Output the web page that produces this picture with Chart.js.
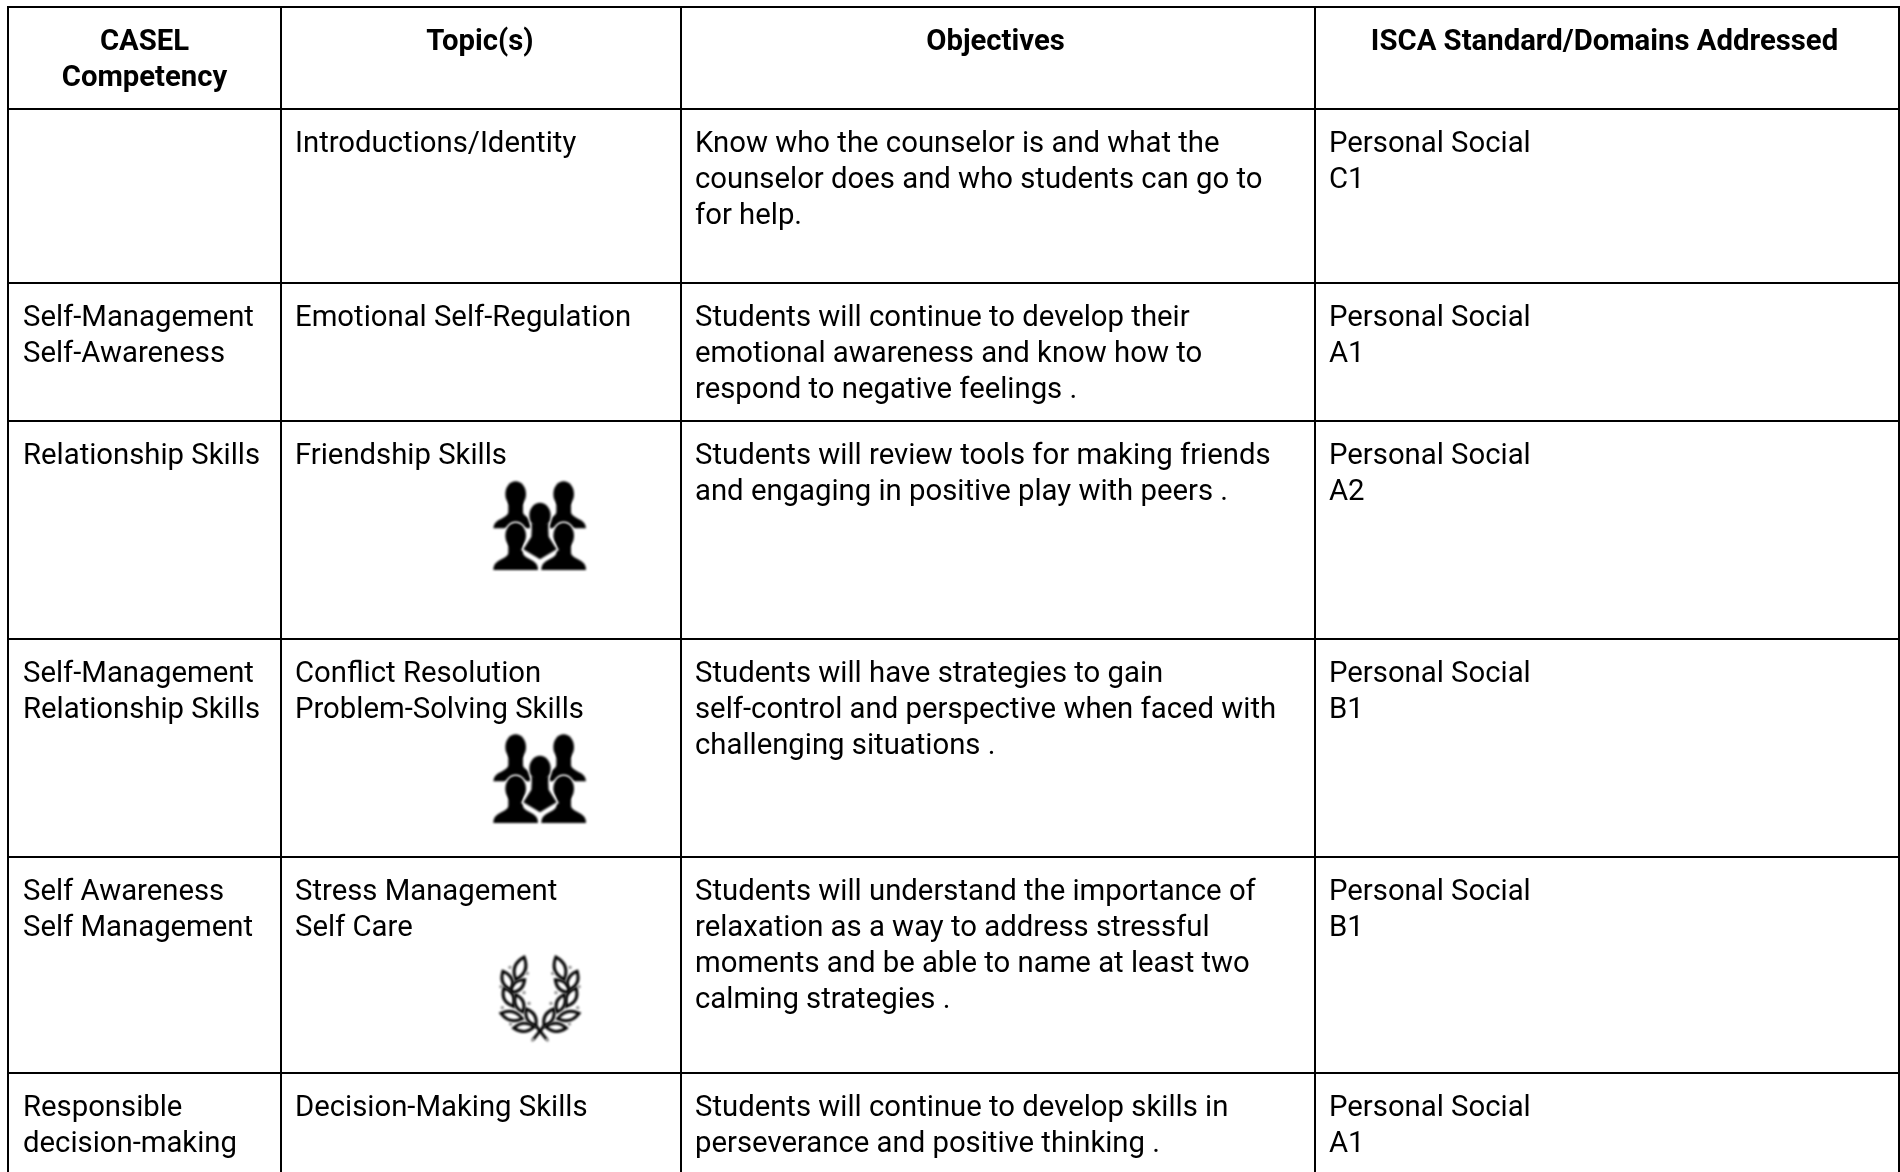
<!DOCTYPE html>
<html>
<head>
<meta charset="utf-8">
<style>html,body{margin:0;padding:0;background:#fff}canvas{display:block}</style>
<script src="https://cdn.jsdelivr.net/npm/chart.js@4/dist/chart.umd.js"></script>
</head>
<body>
<canvas id="c" width="1900" height="1172"></canvas>
<script>
const columnEdges = [8, 281, 681, 1315, 1899];
const rowEdges = [7, 109, 283, 421, 639, 857, 1073];
const headers = [["CASEL","Competency"],["Topic(s)"],["Objectives"],["ISCA Standard/Domains Addressed"]];
const competencies = [[],["Self-Management","Self-Awareness"],["Relationship Skills"],["Self-Management","Relationship Skills"],["Self Awareness","Self Management"],["Responsible","decision-making"]];
const topics = [["Introductions/Identity"],["Emotional Self-Regulation"],["Friendship Skills"],["Conflict Resolution","Problem-Solving Skills"],["Stress Management","Self Care"],["Decision-Making Skills"]];
const objectives = [
 ["Know who the counselor is and what the","counselor does and who students can go to","for help."],
 ["Students will continue to develop their","emotional awareness and know how to","respond to negative feelings ."],
 ["Students will review tools for making friends","and engaging in positive play with peers ."],
 ["Students will have strategies to gain","self-control and perspective when faced with","challenging situations ."],
 ["Students will understand the importance of","relaxation as a way to address stressful","moments and be able to name at least two","calming strategies ."],
 ["Students will continue to develop skills in","perseverance and positive thinking ."]];
const standards = [["Personal Social","C1"],["Personal Social","A1"],["Personal Social","A2"],["Personal Social","B1"],["Personal Social","B1"],["Personal Social","A1"]];
const iconX = [530, 530, 530];
const iconY = [525, 778, 995];
const iconKinds = ["people","people","laurel"];

const FONT = 'Roboto, sans-serif';
const SIZE = 29.3, LINE = 35.9, BASE = 43;
const PADS = [15, 14, 14, 14];
const HEADER_SHIFT = [0, -1, -2.5, -2.5];

function iconCanvas(draw){
  const cv = document.createElement('canvas');
  cv.width = 120; cv.height = 110;
  const g = cv.getContext('2d');
  g.filter = 'blur(0.8px)';
  g.scale(1/3,1/3);
  draw(g);
  return cv;
}
function person(g, cx, hy, shoulderY, bottom, half, outline){
  const p = new Path2D();
  p.ellipse(cx, hy, 31, 38, 0, 0, Math.PI*2);
  const b = new Path2D();
  b.moveTo(cx-22, hy+20);
  b.lineTo(cx-22, shoulderY-16);
  b.quadraticCurveTo(cx-20, shoulderY-4, cx-half+24, shoulderY+6);
  b.quadraticCurveTo(cx-half, shoulderY+16, cx-half, bottom);
  b.lineTo(cx+half, bottom);
  b.quadraticCurveTo(cx+half, shoulderY+16, cx+half-24, shoulderY+6);
  b.quadraticCurveTo(cx+20, shoulderY-4, cx+22, shoulderY-16);
  b.lineTo(cx+22, hy+20);
  b.closePath();
  if(outline){ g.strokeStyle='#fff'; g.lineWidth=9; g.stroke(p); g.stroke(b); }
  g.fillStyle='#000'; g.fill(p); g.fill(b);
}
function people(g){
  person(g,137,72,140,175,67,false);
  person(g,281,72,140,175,67,false);
  person(g,137,197,262,300,67,true);
  person(g,281,197,262,300,67,true);
  const h = new Path2D();
  h.ellipse(210,136,32,38,0,0,Math.PI*2);
  const b = new Path2D();
  b.moveTo(186,160); b.lineTo(184,200); b.lineTo(160,238);
  b.lineTo(210,268); b.lineTo(260,238); b.lineTo(236,200); b.lineTo(234,160); b.closePath();
  g.strokeStyle='#fff'; g.lineWidth=10; g.stroke(h); g.stroke(b);
  g.fillStyle='#000'; g.fill(h); g.fill(b);
}
function laurel(g){
  const leaves = [[150,85,72,34,-70],[112,122,62,30,65],[143,138,56,26,-42],[116,172,62,30,62],[148,190,56,26,68],[125,228,66,28,14],[183,232,58,26,60],[162,262,62,26,-4]];
  g.strokeStyle='#000'; g.fillStyle='#fff'; g.lineWidth=9;
  for(const m of [1,-1]){
    g.save();
    if(m<0){ g.translate(420,0); g.scale(-1,1); }
    for(const [x,y,l,w,a] of leaves){
      g.save(); g.translate(x,y); g.rotate(a*Math.PI/180);
      g.beginPath();
      g.moveTo(-l/2,0);
      g.quadraticCurveTo(0,-w*0.95,l/2,0);
      g.quadraticCurveTo(0,w*0.95,-l/2,0);
      g.closePath(); g.fill(); g.stroke();
      g.restore();
    }
    g.beginPath(); g.moveTo(190,298); g.lineTo(222,258); g.stroke();
    g.fillStyle='#888';
    for(const [x,y] of [[120,82],[172,100],[93,140],[162,158],[97,203],[177,190],[122,252],[188,300]]){
      g.beginPath(); g.arc(x,y,5,0,Math.PI*2); g.fill();
    }
    g.fillStyle='#fff';
    g.restore();
  }
}
const iconStyles = iconKinds.map(k => iconCanvas(k==='people'?people:laurel));

const tablePlugin = {
  id:'tableText',
  afterDatasetsDraw(chart){
    const {ctx, scales:{x,y}} = chart;
    ctx.save();
    ctx.fillStyle='#000';
    ctx.filter='blur(0.35px)';
    ctx.textBaseline='alphabetic';
    ctx.font = `bold ${SIZE}px ${FONT}`;
    ctx.textAlign='center';
    headers.forEach((lines,c)=>{
      const cx = (x.getPixelForValue(columnEdges[c])+x.getPixelForValue(columnEdges[c+1]))/2+HEADER_SHIFT[c];
      lines.forEach((t,i)=>ctx.fillText(t,cx,y.getPixelForValue(rowEdges[0])+BASE+i*LINE));
    });
    ctx.font = `${SIZE}px ${FONT}`;
    ctx.textAlign='left';
    [competencies,topics,objectives,standards].forEach((col,c)=>{
      col.forEach((lines,r)=>{
        lines.forEach((t,i)=>ctx.fillText(t,x.getPixelForValue(columnEdges[c])+PADS[c],y.getPixelForValue(rowEdges[r+1])+BASE+i*LINE));
      });
    });
    ctx.restore();
  }
};

function edgeScale(edges,min,max,extra){
  return Object.assign({
    type:'linear',min,max,display:true,
    afterBuildTicks(s){ s.ticks = edges.map(v=>({value:v})); },
    afterFit(s){ if(s.isHorizontal()) s.height=0; else s.width=0; },
    ticks:{display:false},
    border:{display:false},
    grid:{color:'#000',lineWidth:2,drawTicks:false,drawOnChartArea:true}
  },extra||{});
}
new Chart(document.getElementById('c'),{
  type:'scatter',
  data:{datasets:[{
    label:'icons',
    data:iconX.map((v,i)=>({x:v,y:iconY[i]})),
    pointStyle:iconStyles,
    pointRadius:5,
    pointHoverRadius:5,
    showLine:false
  }]},
  options:{
    responsive:false,animation:false,
    layout:{autoPadding:false,padding:{left:7,top:6,right:0,bottom:0}},
    plugins:{legend:{display:false},title:{display:false},tooltip:{enabled:false}},
    scales:{
      x:edgeScale(columnEdges,7,1900),
      y:edgeScale(rowEdges,6,1172,{reverse:true})
    }
  },
  plugins:[tablePlugin]
});
</script>
</body>
</html>
